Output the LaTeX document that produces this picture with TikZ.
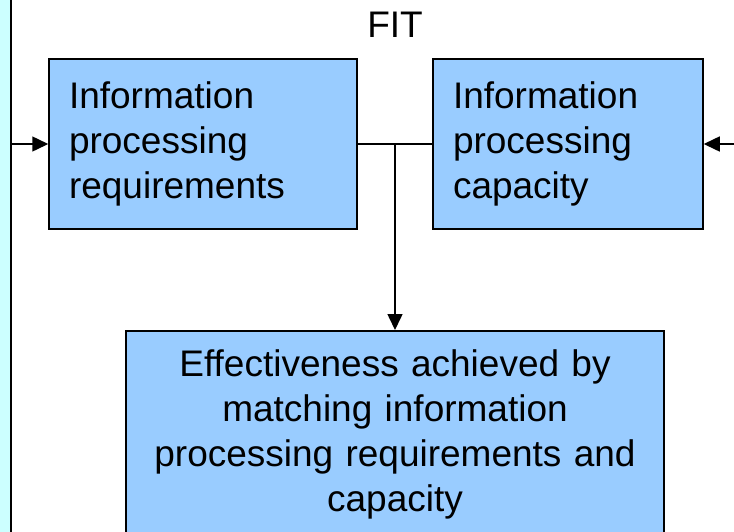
\documentclass[tikz,border=0pt]{standalone}
\usepackage{fontspec}
\setmainfont{Liberation Sans}
\usetikzlibrary{arrows.meta}

\definecolor{boxblue}{HTML}{99CCFF}
\definecolor{panelcyan}{HTML}{CCFFFF}

\begin{document}
\begin{tikzpicture}[x=1pt,y=-1pt]

\tikzstyle{block}=[shape=rectangle, draw, line width=1.5pt,
    fill=boxblue, font=\fontsize{37}{45}\selectfont]
\tikzstyle{link}=[->,>={Triangle[length=16pt,width=15pt]}, line width=1.5pt]

\useasboundingbox (0,0) rectangle (734,531);

% side panel
\fill[panelcyan] (0,-2) rectangle (11,533);
\draw[line width=1.5pt] (11,-2) -- (11,533);

  \node[font=\fontsize{37}{45}\selectfont, anchor=base] (fit) at (395,37) {FIT};

  \node[block, text width=268pt, inner xsep=20pt, minimum height=170pt, align=left]
    (requirements) at (203,144) {Information\\processing\\requirements};
  \node[block, text width=230pt, inner xsep=20pt, minimum height=170pt, align=left]
    (capacity) at (568,144) {Information\\processing\\capacity};

  \node[block, anchor=north, text width=518pt, inner xsep=10pt, inner ysep=19pt, align=center]
    (effectiveness) at (395,330)
    {Effectiveness achieved by\\matching information\\processing requirements and\\capacity};

  \coordinate (inLeft) at (11,144);
  \coordinate (inRight) at (736,144);
  \coordinate (join) at (395,144);

  \draw[link] (inLeft) -- (requirements);
  \draw[link] (inRight) -- (capacity);

% fit
  \draw[line width=1.5pt] (requirements) -- (capacity);
  \draw[link] (join) -- (effectiveness);

\end{tikzpicture}
\end{document}
